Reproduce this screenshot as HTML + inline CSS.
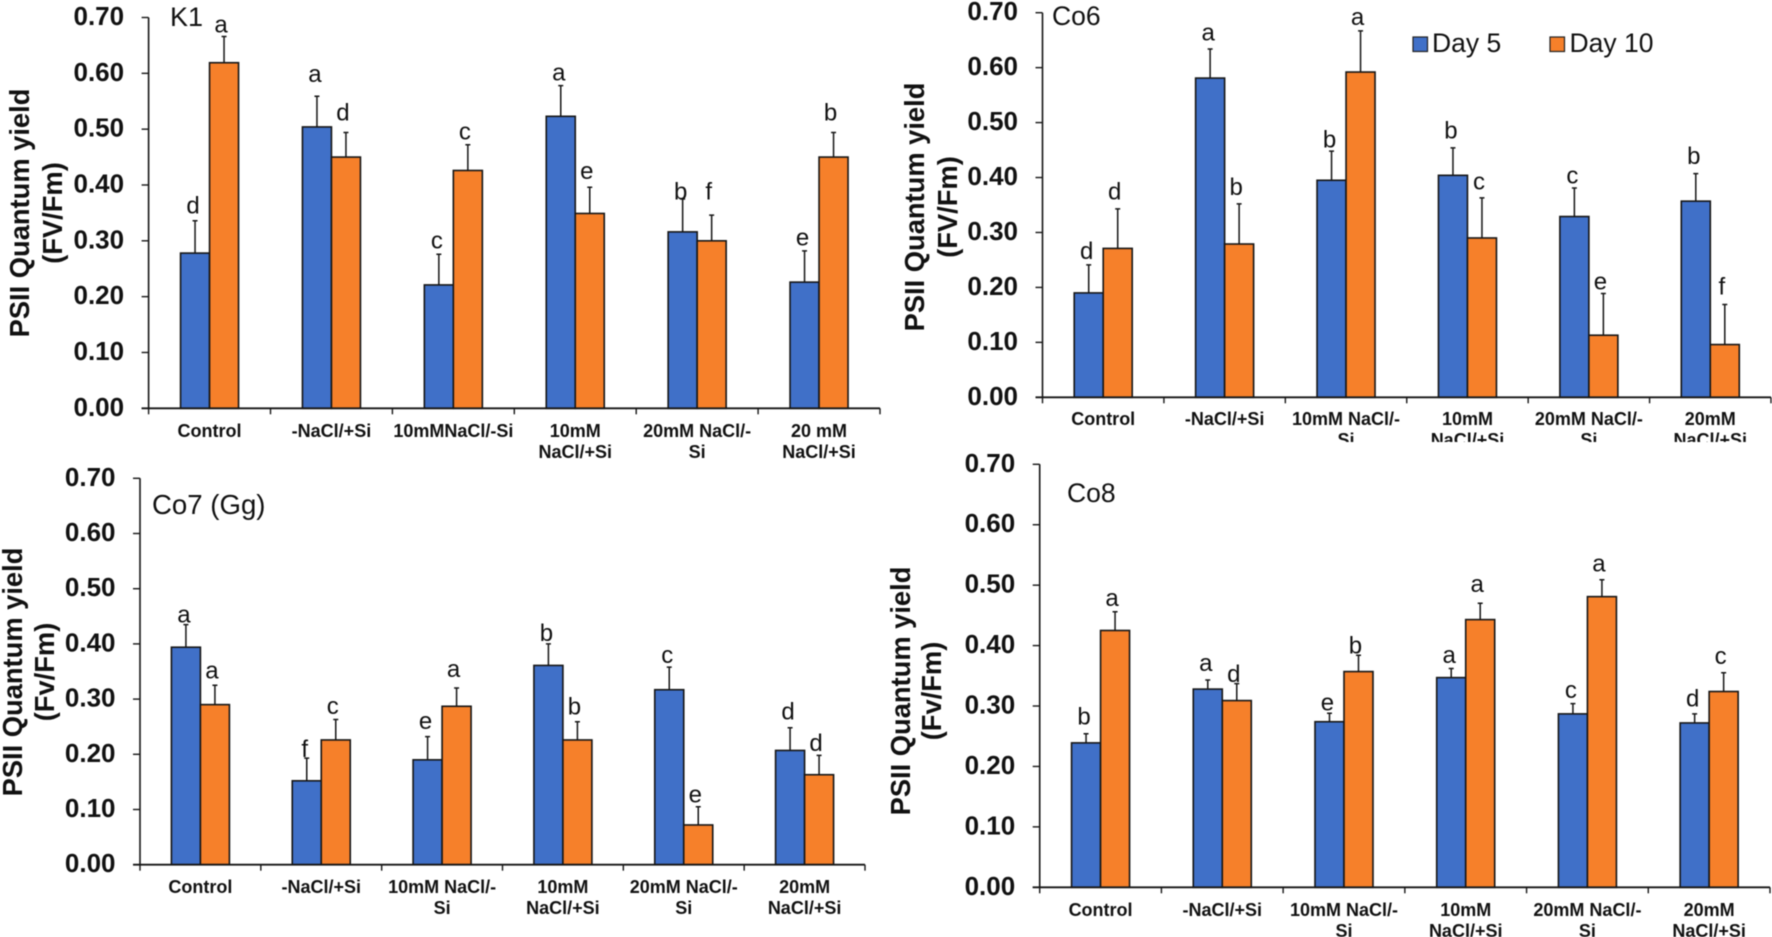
<!DOCTYPE html>
<html lang="en">
<head>
<meta charset="utf-8">
<title>PSII Quantum yield charts</title>
<style>
html,body{margin:0;padding:0;background:#fff;width:1772px;height:937px;overflow:hidden}
svg{display:block;filter:blur(0.45px)}
text{font-family:"Liberation Sans",sans-serif;fill:#111}
.tick{font-weight:bold;font-size:26px}
.cat{font-weight:bold;font-size:18px}
.title{font-weight:bold;font-size:27.3px}
.letter{font-size:24px}
.legend{font-size:26.5px}
</style>
</head>
<body>
<svg id="figure" xmlns="http://www.w3.org/2000/svg" width="1772" height="937" viewBox="0 0 1772 937">
  <defs>
    <clipPath id="co6-clip"><rect x="886" y="0" width="886" height="442"></rect></clipPath>
  </defs>
  <rect x="0" y="0" width="1772" height="937" fill="#fff"></rect>
  <g id="panels"></g>
  <g>
    <rect x="1413" y="37" width="14.5" height="14.5" fill="#4070C8" stroke="#222" stroke-width="1.2"></rect>
    <text class="legend" x="1432" y="52">Day 5</text>
    <rect x="1550" y="37" width="14.5" height="14.5" fill="#F6802A" stroke="#222" stroke-width="1.2"></rect>
    <text class="legend" x="1569.5" y="52">Day 10</text>
  </g>
</svg>
<script>
// Shared axis data
const yTickValues = [0, 0.1, 0.2, 0.3, 0.4, 0.5, 0.6, 0.7];
const yTickLabels = ['0.00', '0.10', '0.20', '0.30', '0.40', '0.50', '0.60', '0.70'];

// K1
const k1Categories = [['Control'], ['-NaCl/+Si'], ['10mMNaCl/-Si'], ['10mM', 'NaCl/+Si'], ['20mM NaCl/-', 'Si'], ['20 mM', 'NaCl/+Si']];
const k1Day5 = [0.278, 0.504, 0.221, 0.523, 0.316, 0.226];
const k1Day10 = [0.619, 0.450, 0.426, 0.349, 0.300, 0.450];
const k1Day5Err = [0.058, 0.055, 0.055, 0.055, 0.059, 0.056];
const k1Day10Err = [0.047, 0.044, 0.046, 0.047, 0.046, 0.044];
const k1Day5Letters = ['d', 'a', 'c', 'a', 'b', 'e'];
const k1Day10Letters = ['a', 'd', 'c', 'e', 'f', 'b'];
const k1Day5Lift = [0.026, 0.039, 0.024, 0.023, 0.012, 0.023];
const k1Day10Lift = [0.021, 0.035, 0.023, 0.028, 0.041, 0.035];

// Co6
const co6Categories = [['Control'], ['-NaCl/+Si'], ['10mM NaCl/-', 'Si'], ['10mM', 'NaCl/+Si'], ['20mM NaCl/-', 'Si'], ['20mM', 'NaCl/+Si']];
const co6Day5 = [0.190, 0.581, 0.395, 0.404, 0.329, 0.357];
const co6Day10 = [0.271, 0.279, 0.592, 0.290, 0.113, 0.096];
const co6Day5Err = [0.051, 0.053, 0.053, 0.050, 0.052, 0.050];
const co6Day10Err = [0.072, 0.073, 0.075, 0.073, 0.076, 0.073];
const co6Day5Letters = ['d', 'a', 'b', 'b', 'c', 'b'];
const co6Day10Letters = ['d', 'b', 'a', 'c', 'e', 'f'];
const co6Day5Lift = [0.024, 0.029, 0.020, 0.031, 0.022, 0.031];
const co6Day10Lift = [0.031, 0.030, 0.024, 0.029, 0.021, 0.032];

// Co7 (Gg)
const co7Categories = [['Control'], ['-NaCl/+Si'], ['10mM NaCl/-', 'Si'], ['10mM', 'NaCl/+Si'], ['20mM NaCl/-', 'Si'], ['20mM', 'NaCl/+Si']];
const co7Day5 = [0.394, 0.152, 0.190, 0.361, 0.317, 0.207];
const co7Day10 = [0.290, 0.226, 0.287, 0.226, 0.072, 0.163];
const co7Day5Err = [0.041, 0.041, 0.042, 0.039, 0.041, 0.041];
const co7Day10Err = [0.035, 0.037, 0.033, 0.033, 0.033, 0.035];
const co7Day5Letters = ['a', 'f', 'e', 'b', 'c', 'd'];
const co7Day10Letters = ['a', 'c', 'a', 'b', 'e', 'd'];
const co7Day5Lift = [0.017, 0.016, 0.027, 0.019, 0.021, 0.029];
const co7Day10Lift = [0.026, 0.024, 0.034, 0.027, 0.021, 0.022];

// Co8
const co8Categories = [['Control'], ['-NaCl/+Si'], ['10mM NaCl/-', 'Si'], ['10mM', 'NaCl/+Si'], ['20mM NaCl/-', 'Si'], ['20mM', 'NaCl/+Si']];
const co8Day5 = [0.239, 0.328, 0.274, 0.347, 0.287, 0.272];
const co8Day10 = [0.425, 0.309, 0.357, 0.443, 0.481, 0.324];
const co8Day5Err = [0.015, 0.015, 0.014, 0.015, 0.017, 0.015];
const co8Day10Err = [0.031, 0.028, 0.027, 0.027, 0.028, 0.031];
const co8Day5Letters = ['b', 'a', 'e', 'a', 'c', 'd'];
const co8Day10Letters = ['a', 'd', 'b', 'a', 'a', 'c'];
const co8Day5Lift = [0.028, 0.027, 0.017, 0.022, 0.022, 0.025];
const co8Day10Lift = [0.022, 0.015, 0.015, 0.031, 0.026, 0.027];

const NS = 'http://www.w3.org/2000/svg';
const BLUE = '#4070C8';
const ORANGE = '#F6802A';
const INK = '#161616';
const BAR_WIDTH = 29;
const root = document.getElementById('panels');

function make(parent, tag, attrs) {
  const el = document.createElementNS(NS, tag);
  for (const key in attrs) el.setAttribute(key, attrs[key]);
  parent.appendChild(el);
  return el;
}

function drawSeries(g, p, yScale, catCenter, opts) {
  opts.values.forEach(function (value, i) {
    const cx = catCenter(i) + opts.side * BAR_WIDTH / 2;
    const top = yScale(value);
    const errTop = yScale(value + opts.errors[i]);

    const whisker = make(g, 'path', {
      d: 'M' + cx + ' ' + top + 'V' + errTop + 'M' + (cx - 2.5) + ' ' + errTop + 'H' + (cx + 2.5),
      stroke: INK, 'stroke-width': 1.5, fill: 'none'
    });
    
    

    const bar = make(g, 'rect', {
      x: cx - BAR_WIDTH / 2, y: top, width: BAR_WIDTH, height: yScale(0) - top,
      fill: opts.color, stroke: INK, 'stroke-width': 1.6
    });
    
    

    const letter = make(g, 'text', {
      class: 'letter', 'text-anchor': 'middle',
      x: cx + opts.letterDx,
      y: yScale(value + opts.errors[i] + opts.lift[i]) + 7.5
    });
    letter.textContent = opts.letters[i];
    
    
  });
}

function drawPanel(p) {
  const g = make(root, 'g', {});
  
  

  const yScale = function (v) { return p.y0 - (v / 0.7) * (p.y0 - p.yTop); };
  const catWidth = (p.xEnd - p.x0) / p.categories.length;
  const catCenter = function (i) { return p.x0 + catWidth * (i + 0.5); };

  drawSeries(g, p, yScale, catCenter, { name: 'day-5', values: p.day5, errors: p.day5Err, letters: p.day5Letters, lift: p.day5Lift, side: -1, color: BLUE, letterDx: -2 });
  drawSeries(g, p, yScale, catCenter, { name: 'day-10', values: p.day10, errors: p.day10Err, letters: p.day10Letters, lift: p.day10Lift, side: 1, color: ORANGE, letterDx: -3 });

  const yAxis = make(g, 'line', { x1: p.x0, x2: p.x0, y1: p.yTop, y2: p.y0, stroke: INK, 'stroke-width': 1.6 });
  
  

  const xAxis = make(g, 'line', { x1: p.x0 - 7, x2: p.xEnd, y1: p.y0, y2: p.y0, stroke: INK, 'stroke-width': 1.8 });
  
  

  yTickValues.forEach(function (v, i) {
    const y = yScale(v);
    const tick = make(g, 'line', { x1: p.x0 - 7, x2: p.x0, y1: y, y2: y, stroke: INK, 'stroke-width': 1.4 });
    
    
    const label = make(g, 'text', { class: 'tick', 'text-anchor': 'end', x: p.x0 - 24.5, y: y + 7.5 });
    label.textContent = yTickLabels[i];
    
    
  });

  const catGroup = make(g, 'g', p.clip ? { 'clip-path': 'url(#' + p.clip + ')' } : {});
  
  
  for (let i = 0; i <= p.categories.length; i++) {
    const x = p.x0 + catWidth * i;
    const tick = make(g, 'line', { x1: x, x2: x, y1: p.y0, y2: p.y0 + 6, stroke: INK, 'stroke-width': 1.4 });
    
    
  }
  p.categories.forEach(function (lines, i) {
    lines.forEach(function (line, j) {
      const label = make(catGroup, 'text', { class: 'cat', 'text-anchor': 'middle', x: catCenter(i), y: p.catBaseline + j * 21 });
      label.textContent = line;
      
      
    });
  });

  const title1 = make(g, 'text', { class: 'title', 'text-anchor': 'middle', transform: 'translate(' + p.title1X + ' ' + p.titleY + ') rotate(-90)' });
  title1.textContent = 'PSII Quantum yield';
  
  

  const title2 = make(g, 'text', { class: 'title', 'text-anchor': 'middle', transform: 'translate(' + p.title2X + ' ' + p.titleY + ') rotate(-90)' });
  title2.textContent = p.unit;
  
  

  const tag = make(g, 'text', { x: p.tagX, y: p.tagY, 'font-size': p.tagSize });
  tag.textContent = p.tag;
  
  
}

drawPanel({ id: 'k1', tag: 'K1', tagSize: 27, tagX: 170, tagY: 26, unit: '(FV/Fm)',
  x0: 148.6, xEnd: 880, yTop: 17.5, y0: 408.3, catBaseline: 437,
  title1X: 29, title2X: 62, titleY: 213,
  categories: k1Categories, day5: k1Day5, day10: k1Day10, day5Err: k1Day5Err, day10Err: k1Day10Err,
  day5Letters: k1Day5Letters, day10Letters: k1Day10Letters, day5Lift: k1Day5Lift, day10Lift: k1Day10Lift });

drawPanel({ id: 'co6', tag: 'Co6', tagSize: 26.5, tagX: 1052, tagY: 25, unit: '(FV/Fm)',
  x0: 1042.5, xEnd: 1771, yTop: 12.7, y0: 397.3, catBaseline: 425, clip: 'co6-clip',
  title1X: 924, title2X: 957, titleY: 207,
  categories: co6Categories, day5: co6Day5, day10: co6Day10, day5Err: co6Day5Err, day10Err: co6Day10Err,
  day5Letters: co6Day5Letters, day10Letters: co6Day10Letters, day5Lift: co6Day5Lift, day10Lift: co6Day10Lift });

drawPanel({ id: 'co7', tag: 'Co7 (Gg)', tagSize: 27.6, tagX: 152, tagY: 514, unit: '(Fv/Fm)',
  x0: 140, xEnd: 865, yTop: 478.3, y0: 864.7, catBaseline: 893,
  title1X: 22, title2X: 54, titleY: 672,
  categories: co7Categories, day5: co7Day5, day10: co7Day10, day5Err: co7Day5Err, day10Err: co7Day10Err,
  day5Letters: co7Day5Letters, day10Letters: co7Day10Letters, day5Lift: co7Day5Lift, day10Lift: co7Day10Lift });

drawPanel({ id: 'co8', tag: 'Co8', tagSize: 26.5, tagX: 1067, tagY: 502, unit: '(Fv/Fm)',
  x0: 1039.7, xEnd: 1770, yTop: 464.3, y0: 887.3, catBaseline: 916,
  title1X: 910, title2X: 941, titleY: 691,
  categories: co8Categories, day5: co8Day5, day10: co8Day10, day5Err: co8Day5Err, day10Err: co8Day10Err,
  day5Letters: co8Day5Letters, day10Letters: co8Day10Letters, day5Lift: co8Day5Lift, day10Lift: co8Day10Lift });
</script>
</body>
</html>
